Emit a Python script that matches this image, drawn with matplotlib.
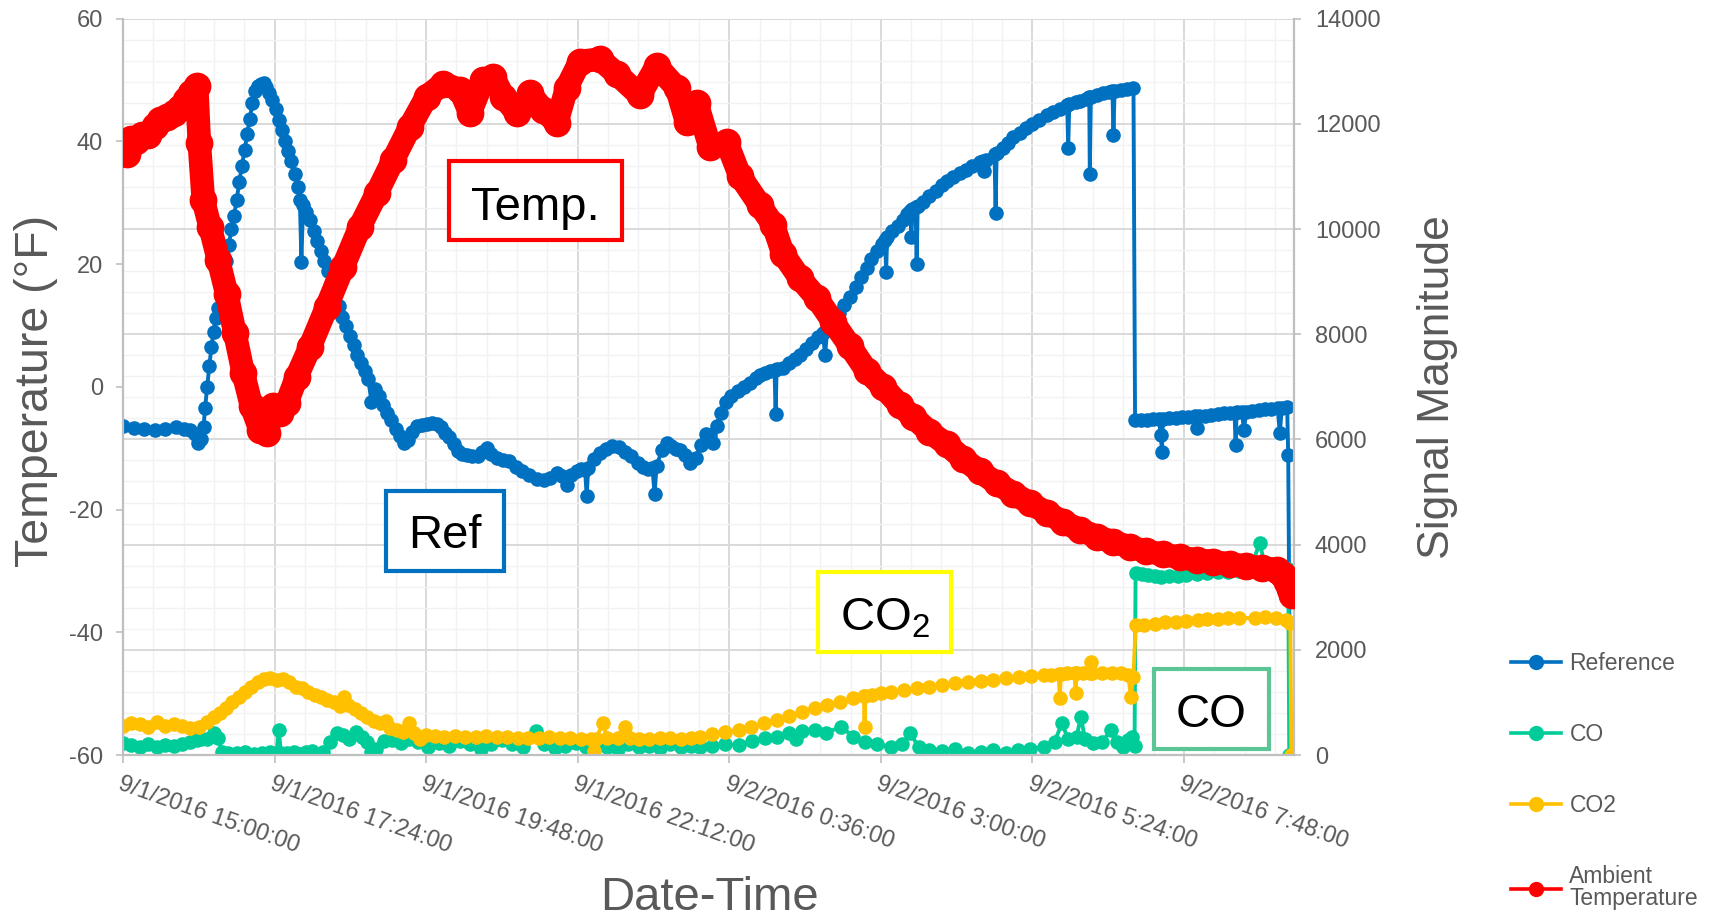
from datetime import datetime, timedelta

import matplotlib.pyplot as plt
from matplotlib.lines import Line2D
from matplotlib.patches import Rectangle
from matplotlib.ticker import MultipleLocator

plt.rcParams['font.family'] = ['Liberation Sans', 'DejaVu Sans']
plt.rcParams['mathtext.fontset'] = 'custom'
plt.rcParams['mathtext.rm'] = 'Liberation Sans'
plt.rcParams['axes.unicode_minus'] = False

# logger start time; every series below is (minutes after start, value)
start = datetime(2016, 9, 1, 15, 0)

# Reference signal (right axis)
ref_pts = [
    (0, 6250), (10, 6220), (20, 6190), (30, 6170), (40, 6200), (50, 6230), (58, 6200),
    (64, 6180), (68, 6100), (71, 5930), (74, 6000), (76.5, 6240), (78, 6600), (80, 7000),
    (82, 7400), (84, 7750), (86, 8050), (88, 8300), (90.5, 8500), (93, 8800), (95.5, 9100),
    (98, 9400), (100.5, 9700), (103, 10000), (105.5, 10250), (108, 10550), (110.5, 10900),
    (113, 11200), (115.5, 11500), (118, 11800), (120.5, 12100), (123, 12400), (125.5, 12620),
    (128.5, 12720), (131, 12760), (133.5, 12770), (136, 12700), (139, 12580), (142, 12450),
    (145, 12280), (148, 12080), (151, 11880), (154, 11680), (157, 11480), (160, 11300),
    (163, 11050), (166, 10800), (168, 10560), (169.5, 9380), (171, 10450), (174, 10320),
    (177.5, 10170), (181, 9970), (184.5, 9780), (188, 9580), (191, 9400), (194.5, 9200),
    (198, 8980), (201.5, 8760), (205, 8540), (208.5, 8330), (212, 8150), (215.5, 7960),
    (219, 7790), (222.5, 7610), (226, 7450), (229.5, 7300), (233, 7150), (236, 6720),
    (239, 6950), (243, 6820), (247, 6650), (251, 6500), (255, 6360), (259, 6200),
    (263, 6060), (267, 5940), (271, 5980), (275, 6150), (279, 6250), (284, 6280),
    (289, 6300), (294, 6310), (298, 6300), (302, 6230), (306, 6130), (310, 6050),
    (314, 5920), (318, 5780), (322, 5720), (327, 5700), (332, 5680), (337, 5690),
    (341, 5760), (345.5, 5830), (350, 5720), (355, 5650), (361, 5610), (367, 5580),
    (373, 5480), (379, 5400), (386, 5320), (393, 5250), (400, 5220), (406, 5260),
    (412, 5370), (417, 5300), (421.5, 5140), (426, 5330), (431, 5400), (435, 5430),
    (439, 5420), (440.5, 4930), (442, 5450), (447, 5620), (453, 5740), (459, 5820),
    (465, 5880), (471, 5860), (477, 5760), (483, 5680), (489, 5560), (494, 5470),
    (499, 5440), (503, 5450), (505, 4970), (507, 5500), (512, 5800), (516.5, 5930),
    (521, 5880), (525, 5820), (529, 5790), (534, 5700), (539, 5560), (544, 5650),
    (549, 5900), (554, 6100), (558, 6080), (561, 5930), (564, 6250), (568, 6500),
    (573, 6716), (578, 6830), (584, 6920), (590, 7000), (596, 7080), (601, 7160),
    (605, 7225), (610, 7260), (615, 7300), (619, 7320), (620, 6480), (621, 7340),
    (627, 7366), (633, 7450), (638, 7530), (643, 7600), (649, 7720), (655, 7840),
    (660, 7940), (665, 8015), (667, 7600), (669, 8080), (675, 8247), (680, 8400),
    (685, 8550), (690.7, 8711), (696, 8900), (701, 9080), (706.5, 9267), (711, 9430),
    (716, 9580), (721, 9720), (724, 9800), (725, 9180), (726, 9850), (731, 9960),
    (736, 10060), (741, 10180), (745, 10280), (748, 10350), (749, 9843), (750, 10380),
    (753, 10420), (754, 9333), (755, 10440), (760, 10520), (766, 10620), (772, 10720),
    (778, 10830), (783, 10912), (789, 10990), (795, 11060), (801, 11130), (807, 11200),
    (814, 11281), (817, 11300), (818, 11094), (820, 11320), (828, 11420), (829, 10307),
    (830, 11440), (836, 11540), (841, 11640), (846, 11745), (852, 11830), (858, 11920),
    (864, 12000), (870, 12080), (877.5, 12161), (884, 12220), (890, 12280), (897, 12360),
    (898, 11541), (899, 12380), (905, 12410), (909, 12440), (915, 12480), (918, 12500),
    (918.5, 11049), (919.5, 12510), (925, 12550), (931, 12580), (937, 12610), (940, 12620),
    (941, 11790), (942, 12630), (948, 12650), (954, 12670), (960, 12689), (961.5, 6368),
    (967, 6360), (973, 6370), (979, 6380), (984, 6390), (986, 6087), (987, 5764),
    (988, 6390), (994, 6400), (1000, 6400), (1006, 6420), (1012, 6430), (1018, 6440),
    (1020, 6224), (1022, 6450), (1028, 6450), (1034, 6470), (1040, 6480), (1046, 6500),
    (1052, 6510), (1056, 6510), (1057, 5900), (1058, 6520), (1063, 6520), (1065, 6180),
    (1067, 6530), (1073, 6540), (1079, 6560), (1085, 6570), (1091, 6580), (1097, 6590),
    (1099, 6127), (1101, 6600), (1106, 6620), (1107, 5700), (1109, 0),
]

# CO sensor signal (right axis)
co_pts = [
    (0, 230), (8, 190), (16, 160), (24, 200), (32, 150), (40, 190), (48, 170), (56, 210),
    (64, 240), (70, 280), (74, 300), (80, 300), (86, 420), (90, 330), (94, 60), (100, 40),
    (108, 30), (116, 50), (124, 20), (132, 40), (140, 60), (146, 40), (148, 480), (150, 40),
    (156, 30), (162, 60), (168, 20), (174, 50), (180, 80), (190, 60), (197, 250), (203, 420),
    (209, 380), (215, 300), (221, 430), (227, 350), (232, 250), (236, 60), (240, 120),
    (248, 260), (256, 280), (264, 220), (272, 300), (280, 240), (290, 160), (300, 220),
    (310, 180), (320, 260), (330, 200), (340, 120), (350, 210), (360, 280), (370, 200),
    (380, 160), (392, 460), (400, 200), (410, 140), (420, 180), (430, 220), (440, 160),
    (450, 200), (460, 150), (470, 120), (480, 200), (490, 150), (500, 180), (510, 130),
    (520, 200), (530, 160), (540, 180), (548, 158), (560, 170), (572, 200), (585, 190),
    (598, 260), (610, 320), (621, 348), (633, 420), (639, 300), (645, 450), (657, 475),
    (668, 420), (682, 538), (694, 348), (705, 250), (716, 200), (730, 158), (740, 200),
    (748, 412), (756, 150), (766, 95), (778, 80), (790, 120), (803, 32), (815, 60),
    (827, 100), (839, 32), (850, 90), (862, 120), (875, 158), (885, 250), (892, 602),
    (898, 300), (906, 350), (910, 729), (914, 300), (922, 222), (930, 250), (939, 475),
    (944, 250), (950, 158), (955, 280), (959, 348), (961, 180), (962, 3454), (968, 3440),
    (974, 3420), (980, 3410), (986, 3390), (994, 3400), (1002, 3410), (1010, 3430),
    (1020, 3450), (1030, 3460), (1040, 3470), (1050, 3480), (1060, 3490), (1070, 3500),
    (1080, 4024), (1086, 3510), (1094, 3520), (1102, 3530), (1107, 3540), (1108, 0),
]

# CO2 sensor signal (right axis)
co2_pts = [
    (0, 560), (8, 600), (16, 580), (24, 540), (32, 620), (40, 560), (48, 580), (56, 560),
    (64, 520), (72, 540), (80, 620), (86, 720), (92, 800), (98, 900), (104, 1000),
    (110, 1100), (116, 1200), (122, 1300), (128, 1390), (134, 1440), (140, 1470),
    (146, 1420), (152, 1450), (158, 1380), (164, 1300), (170, 1270), (176, 1200),
    (182, 1150), (188, 1100), (194, 1050), (200, 1000), (206, 940), (210, 1100),
    (214, 950), (220, 880), (226, 800), (232, 720), (238, 640), (244, 600), (250, 640),
    (254, 520), (260, 480), (266, 440), (272, 600), (276, 420), (282, 300), (288, 380),
    (296, 360), (305, 350), (315, 360), (325, 340), (335, 350), (345, 360), (355, 340),
    (365, 350), (375, 330), (385, 320), (395, 330), (405, 340), (415, 320), (425, 330),
    (435, 310), (445, 300), (447, 80), (449, 300), (456, 600), (460, 330), (470, 320),
    (477, 540), (482, 320), (490, 300), (500, 310), (510, 320), (520, 330), (530, 310),
    (540, 330), (548, 348), (560, 390), (572, 430), (585, 475), (597, 540), (609, 600),
    (621, 665), (633, 740), (645, 810), (657, 887), (669, 950), (681, 1010), (693.6, 1077),
    (704, 1120), (704.5, 538), (705, 1130), (712, 1150), (720, 1180), (730, 1204),
    (742, 1230), (754, 1270), (766, 1299), (778, 1330), (790, 1360), (802.6, 1394),
    (815, 1410), (827, 1435), (839, 1457), (851, 1480), (863, 1500), (875, 1521),
    (882, 1530), (889, 1540), (890, 1077), (891, 1545), (897, 1550), (904, 1550),
    (905, 1172), (906, 1553), (912, 1555), (919, 1560), (920, 1774), (921, 1560),
    (930, 1553), (940, 1553), (948, 1553), (955, 1520), (957.5, 1109), (960, 1489),
    (962, 2471), (970, 2480), (980, 2500), (990, 2520), (1000, 2536), (1010, 2550),
    (1021, 2566), (1030, 2580), (1040, 2590), (1050, 2600), (1060, 2610), (1075, 2598),
    (1085, 2620), (1095, 2600), (1105, 2560), (1109, 2503), (1110, 0),
]

# ambient temperature in deg F (left axis)
temp_pts = [
    (0, 39.5), (4, 38.0), (8, 40.4), (12, 40.0), (18, 41.0), (24, 41.1), (30, 42.5),
    (35, 43.5), (42, 44.0), (48, 44.6), (54, 45.5), (60, 46.7), (65, 47.8), (70, 49.0),
    (72.5, 39.7), (76.3, 30.4), (82.7, 26.1), (90.6, 20.7), (98.5, 15.2), (106.4, 8.7),
    (114.3, 2.2), (122.2, -3.2), (130.2, -7.0), (136.5, -7.6), (142.8, -3.2), (149.2, -4.3),
    (155.5, -2.7), (165, 1.6), (177.7, 6.5), (193.5, 13.0), (209.3, 19.6), (225.2, 26.1),
    (241, 31.5), (256.8, 37.0), (272.7, 42.4), (288.5, 47.3), (304.3, 49.4), (320.2, 48.4),
    (329.7, 44.6), (342.3, 50.0), (351.8, 50.5), (361.3, 47.3), (374, 44.6), (386.7, 47.8),
    (399.3, 45.1), (412, 43.0), (421.5, 48.7), (434, 53.0), (453, 53.4), (469, 51.0),
    (491, 47.5), (507, 52.3), (526, 48.7), (535.5, 43.1), (545, 46.3), (557.7, 39.1),
    (573.5, 39.9), (586, 34.4), (605, 29.6), (617.8, 26.4), (627, 21.7), (643, 17.7),
    (659, 14.5), (675, 10.5), (690.7, 6.6), (706.5, 2.6), (722, 0.0), (738, -3.0),
    (751, -5.0), (766, -7.3), (782.5, -9.4), (798, -11.7), (814, -13.8), (830, -15.7),
    (846, -17.4), (862, -19.0), (877.5, -20.5), (893, -22.0), (909, -23.3), (925, -24.4),
    (941, -25.3), (957, -26.1), (972, -26.8), (988, -27.3), (1004, -27.8), (1020, -28.2),
    (1036, -28.5), (1052, -28.9), (1067, -29.2), (1082, -29.5), (1096, -29.8),
    (1102, -30.6), (1106, -31.8), (1109, -33.0), (1111, -34.0),
]

series_names = ['Reference', 'CO', 'CO2', 'Ambient\nTemperature']
series_colors = ['#0070C0', '#00CC99', '#FFC000', '#FF0000']

tick_step_min = 144          # 0.1 day between labelled ticks
end_min = 1112.5


def unpack(pts):
    mins, vals = zip(*pts)
    return [start + timedelta(minutes=m) for m in mins], list(vals)


W, H = 1719, 917
fig = plt.figure(figsize=(W / 100, H / 100), dpi=100)

def fx(px):
    return px / W

def fy(py):
    return 1 - py / H

# signal axis carries the grid and sits underneath; temperature twin on top
ax = fig.add_axes([fx(123), fy(755), fx(1294) - fx(123), fy(18.6) - fy(755)])
ax2 = ax.twinx()
ax.yaxis.tick_right()
ax2.yaxis.tick_left()

grey_txt = '#595959'
grey_line = '#BFBFBF'

for (pts, color) in zip([ref_pts, co_pts, co2_pts], series_colors[:3]):
    t, v = unpack(pts)
    ax.plot(t, v, color=color, lw=2.8, marker='o', ms=10.5, mew=0)

t, v = unpack(temp_pts)
ax2.plot(t, v, color=series_colors[3], lw=17, marker='o', ms=20, mew=0,
         solid_capstyle='round', solid_joinstyle='round')

ax.set_xlim(start, start + timedelta(minutes=end_min))
ax.set_ylim(0, 14000)
ax2.set_ylim(-60, 60)

major_t = [start + timedelta(minutes=tick_step_min * k) for k in range(8)]
minor_t = [start + timedelta(minutes=tick_step_min / 5 * k) for k in range(39)]
ax.set_xticks(major_t)
ax.set_xticks(minor_t, minor=True)
ax.set_xticklabels([f'{d.month}/{d.day}/{d.year} {d.hour}:{d.minute:02d}:00' for d in major_t],
                   rotation=-19.5, ha='left', va='top', rotation_mode='anchor')

ax.yaxis.set_major_locator(MultipleLocator(2000))
ax.yaxis.set_minor_locator(MultipleLocator(400))
ax2.yaxis.set_major_locator(MultipleLocator(20))

ax.grid(which='major', color='#D9D9D9', lw=1.4)
ax.grid(which='minor', color='#F2F2F2', lw=1.0)

ax.tick_params(axis='x', which='major', length=5.8, width=1.2, color=grey_line,
               labelsize=17, labelcolor=grey_txt, pad=7)
ax.tick_params(axis='both', which='minor', length=0)
ax.tick_params(axis='y', which='major', length=4.7, width=1.2, color=grey_line,
               labelsize=17, labelcolor=grey_txt, pad=10.4)
ax2.tick_params(axis='y', which='major', length=4.7, width=1.2, color=grey_line,
                labelsize=17, labelcolor=grey_txt, pad=9.7)

for name, s in ax.spines.items():
    s.set_color(grey_line)
    s.set_linewidth(1.6)
ax.spines['top'].set_visible(False)
for s in ax2.spines.values():
    s.set_visible(False)

fig.text(fx(36), fy(391), 'Temperature (°F)', rotation=90, ha='center', va='center',
         fontsize=33.5, color=grey_txt)
fig.text(fx(1437), fy(387), 'Signal Magnitude', rotation=90, ha='center', va='center',
         fontsize=32, color=grey_txt)
fig.text(fx(709), fy(910), 'Date-Time', ha='center', va='baseline',
         fontsize=34, color=grey_txt)

# labelled boxes over the plot
boxes = [
    ('Temp.', (449, 161, 622, 240), '#FF0000', 220),
    ('Ref', (386, 491, 504, 571), '#0070C0', 548),
    ('CO$_2$', (818, 572, 951, 652), '#FFFF00', 630),
    ('CO', (1154, 669, 1269, 749), '#5CC595', 727),
]
for label, (x0, y0, x1, y1), edge, base in boxes:
    fig.add_artist(Rectangle((fx(x0), fy(y1)), fx(x1) - fx(x0), fy(y0) - fy(y1),
                             transform=fig.transFigure, facecolor='white',
                             edgecolor=edge, lw=3, zorder=5))
    fig.text(fx((x0 + x1) / 2), fy(base), label, ha='center', va='baseline',
             fontsize=34, color='black', zorder=6)

handles = [Line2D([], [], color=c, lw=2.6, marker='o', ms=11, mew=0) for c in series_colors]
leg = fig.legend(handles, series_names, loc='upper left',
                 bbox_to_anchor=(fx(1511), fy(652)), frameon=False, borderpad=0,
                 borderaxespad=0, handlelength=2.2, handletextpad=0.35,
                 labelspacing=2.1, fontsize=16.5, labelcolor=grey_txt)
for txt in leg.get_texts():
    txt.set_linespacing(0.95)

fig.savefig('out.png', dpi=100)
